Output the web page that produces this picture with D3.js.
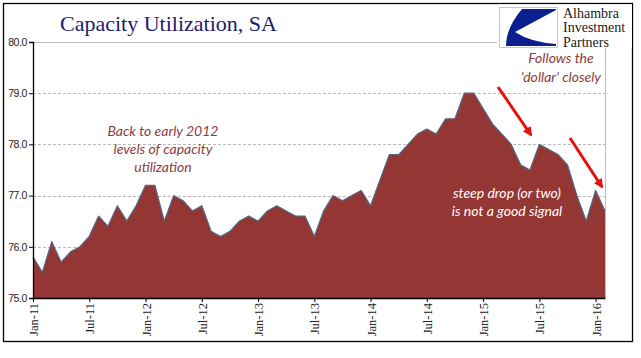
<!DOCTYPE html>
<html><head><meta charset="utf-8">
<script src="https://cdn.jsdelivr.net/npm/d3@7"></script>
<style>
html,body{margin:0;padding:0;background:#fff;}
svg{display:block;}
</style></head>
<body>
<svg id="c" width="641" height="358"></svg>
<script>
// ---- data ----
const values = [
  75.8,75.5,76.1,75.7,75.9,76.0,76.2,76.6,76.4,76.8,76.5,76.8,
  77.2,77.2,76.5,77.0,76.9,76.7,76.8,76.3,76.2,76.3,76.5,76.6,
  76.5,76.7,76.8,76.7,76.6,76.6,76.2,76.7,77.0,76.9,77.0,77.1,
  76.8,77.3,77.8,77.8,78.0,78.2,78.3,78.2,78.5,78.5,79.0,79.0,
  78.7,78.4,78.2,78.0,77.6,77.5,78.0,77.9,77.8,77.6,77.0,76.5,
  77.1,76.7
];
const xTickIndex = [0,6,12,18,24,30,36,42,48,54,60];
const xTickLabels = ["Jan-11","Jul-11","Jan-12","Jul-12","Jan-13","Jul-13","Jan-14","Jul-14","Jan-15","Jul-15","Jan-16"];
const yTicks = [75,76,77,78,79,80];
const title = "Capacity Utilization, SA";
const note1 = ["Back to early 2012","levels of capacity","utilization"];
const note2 = ["Follows the","'dollar' closely"];
const note3 = ["steep drop (or two)","is not a good signal"];
const logoLines = ["Alhambra","Investment","Partners"];

// ---- layout ----
const svg = d3.select("#c");
const L = 33, R = 605, T = 42, B = 298;
const x = d3.scaleLinear().domain([0, values.length - 1]).range([L, R]);
const y = d3.scaleLinear().domain([75, 80]).range([B, T]);

// frame
svg.append("rect").attr("x",3.5).attr("y",3.5).attr("width",629).attr("height",338)
  .attr("fill","#fff").attr("stroke","#000").attr("stroke-width",1.3);

// title
svg.append("text").attr("x",60).attr("y",31).text(title)
  .attr("font-family","'Liberation Serif','Times New Roman',serif")
  .attr("font-size",22).attr("fill","#1c1c6b");

// plot border (top/right light gray)
svg.append("line").attr("x1",L).attr("x2",R).attr("y1",y(80)+0.5).attr("y2",y(80)+0.5)
  .attr("stroke","#bcbcbc").attr("stroke-width",1);
svg.append("line").attr("x1",R+0.5).attr("x2",R+0.5).attr("y1",T).attr("y2",B)
  .attr("stroke","#bcbcbc").attr("stroke-width",1);

// gridlines
svg.append("g").selectAll("line").data(yTicks.filter(d => d > 75 && d < 80)).join("line")
  .attr("x1",L).attr("x2",R).attr("y1",d => Math.round(y(d))+0.5).attr("y2",d => Math.round(y(d))+0.5)
  .attr("stroke","#a6a6a6").attr("stroke-width",0.8).attr("stroke-dasharray","3,2");

// area
const area = d3.area().x((d,i) => x(i)).y0(y(75)).y1(d => y(d));
const line = d3.line().x((d,i) => x(i)).y(d => y(d));
svg.append("path").datum(values).attr("d",area).attr("fill","#943634");
svg.append("path").datum(values).attr("d",line).attr("fill","none")
  .attr("stroke","#56657f").attr("stroke-width",1.3).attr("stroke-linejoin","round");

// axes
const yAxis = d3.axisLeft(y).tickValues(yTicks).tickFormat(d3.format(".1f")).tickSize(4).tickPadding(2);
const gy = svg.append("g").attr("transform",`translate(${L},0)`).call(yAxis);
gy.select(".domain").attr("stroke","#000").attr("stroke-width",1.3);
gy.selectAll(".tick line").attr("stroke","#000");
gy.selectAll("text").attr("font-family","'Liberation Sans',Arial,sans-serif")
  .attr("font-size",10.5).attr("fill","#222").attr("letter-spacing",-0.4);

const xAxis = d3.axisBottom(x).tickValues(xTickIndex)
  .tickFormat((d,i) => xTickLabels[i]).tickSize(4).tickSizeOuter(0);
const gx = svg.append("g").attr("transform",`translate(0,${B})`).call(xAxis);
gx.select(".domain").attr("stroke","#000").attr("stroke-width",1.3);
gx.selectAll(".tick line").attr("stroke","#000");
gx.selectAll("text")
  .attr("font-family","'Liberation Serif','Times New Roman',serif")
  .attr("font-size",12.5).attr("fill","#222")
  .attr("text-anchor","end").attr("dy",null)
  .attr("transform","rotate(-90)").attr("x",-5).attr("y",4.5);

// annotations
const annFont = "Lato,'Open Sans',sans-serif";
svg.append("g").selectAll("text").data(note1).join("text")
  .attr("x",163).attr("y",(d,i) => 136 + i*18).attr("text-anchor","middle")
  .attr("font-family",annFont).attr("font-style","italic").attr("font-size",14)
  .attr("fill","#8e3b3b").text(d => d);

svg.append("g").selectAll("text").data(note2).join("text")
  .attr("x",561).attr("y",(d,i) => 63 + i*18.5).attr("text-anchor","middle")
  .attr("font-family",annFont).attr("font-style","italic").attr("font-size",14)
  .attr("fill","#8e3b3b").text(d => d);

svg.append("g").selectAll("text").data(note3).join("text")
  .attr("x",507).attr("y",(d,i) => 198 + i*18).attr("text-anchor","middle")
  .attr("font-family",annFont).attr("font-style","italic").attr("font-size",14)
  .attr("fill","#ffffff").text(d => d);

// arrows
const defs = svg.append("defs");
defs.append("marker").attr("id","ah").attr("viewBox","0 0 10 10").attr("refX",8).attr("refY",5)
  .attr("markerWidth",3.2).attr("markerHeight",3.2).attr("orient","auto")
  .append("path").attr("d","M0,0 L10,5 L0,10 Z").attr("fill","#e8100f");
const arrows = [[498,87,531,135],[570,138,602,187]];
svg.append("g").selectAll("line").data(arrows).join("line")
  .attr("x1",d=>d[0]).attr("y1",d=>d[1]).attr("x2",d=>d[2]).attr("y2",d=>d[3])
  .attr("stroke","#e8100f").attr("stroke-width",3).attr("marker-end","url(#ah)");

// logo
const lg = svg.append("g");
lg.append("rect").attr("x",497).attr("y",4.5).attr("width",135).attr("height",43.5).attr("fill","#fff");
lg.append("rect").attr("x",499.5).attr("y",7.5).attr("width",58).attr("height",40)
  .attr("fill","#fff").attr("stroke","#c8c8c8").attr("stroke-width",1);
lg.append("path")
  .attr("d","M522,9 L556,9 L556,10 L515,32 Q530,42 556,44 L556,46 L506,46 Q506,28 522,9 Z")
  .attr("fill","#0b1f8f");
lg.selectAll("text.lt").data(logoLines).join("text").attr("class","lt")
  .attr("x",563).attr("y",(d,i) => 17.5 + i*14.5)
  .attr("font-family","'Liberation Serif','Times New Roman',serif")
  .attr("font-size",14).attr("fill","#1a1a1a").text(d => d);
</script>
</body></html>
